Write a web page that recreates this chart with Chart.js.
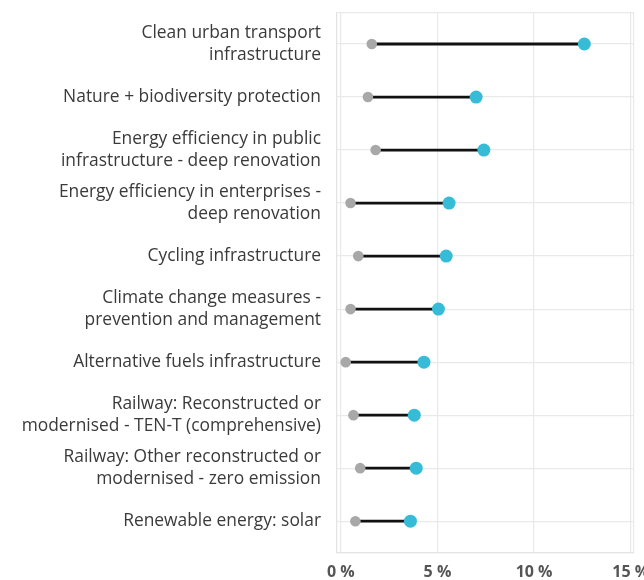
<!DOCTYPE html>
<html>
<head>
<meta charset="utf-8">
<script src="https://cdn.jsdelivr.net/npm/chart.js@4"></script>
<style>
  body { margin: 0; background: #fff; }
  #wrap { width: 644px; height: 580px; }
</style>
</head>
<body>
<div id="wrap"><canvas id="dumbbellChart"></canvas></div>
<script>
// categories top to bottom
const categories = [
    ["Clean urban transport", "infrastructure"],
    "Nature + biodiversity protection",
    ["Energy efficiency in public", "infrastructure - deep renovation"],
    ["Energy efficiency in enterprises -", "deep renovation"],
    "Cycling infrastructure",
    ["Climate change measures -", "prevention and management"],
    "Alternative fuels infrastructure",
    ["Railway: Reconstructed or", "modernised - TEN-T (comprehensive)"],
    ["Railway: Other reconstructed or", "modernised - zero emission"],
    "Renewable energy: solar"
];
const startValues = [1.6, 1.4, 1.8, 0.5, 0.9, 0.5, 0.25, 0.65, 1.0, 0.75];
const endValues = [12.6, 7.0, 7.4, 5.6, 5.45, 5.05, 4.3, 3.8, 3.9, 3.6];
const xTicks = [0, 5, 10, 15];

const xMin = -0.2, xMax = 15.17;
const yMin = -0.585, yMax = 9.6;

// one line segment per row, broken with null points
const segments = [];
for (let i = 0; i < categories.length; i++) {
    segments.push({ x: startValues[i], y: i });
    segments.push({ x: endValues[i], y: i });
    segments.push({ x: null, y: null });
}

const ctx = document.getElementById('dumbbellChart').getContext('2d');
const dumbbellChart = new Chart(ctx, {
    type: 'scatter',
    data: {
        datasets: [{
            label: 'End',
            data: endValues.map((v, i) => ({ x: v, y: i })),
            backgroundColor: '#36bcd6',
            borderWidth: 0,
            pointRadius: 6.5,
            pointHoverRadius: 6.5,
            order: 0
        }, {
            label: 'Start',
            data: startValues.map((v, i) => ({ x: v, y: i })),
            backgroundColor: '#a8a8a8',
            borderWidth: 0,
            pointRadius: 5.3,
            pointHoverRadius: 5.3,
            order: 1
        }, {
            type: 'line',
            label: 'Range',
            data: segments,
            borderColor: '#111111',
            borderWidth: 2.8,
            pointRadius: 0,
            spanGaps: false,
            order: 2
        }]
    },
    options: {
        responsive: true,
        maintainAspectRatio: false,
        animation: false,
        layout: { padding: { top: 13, right: 10, left: 0, bottom: 0 } },
        plugins: {
            legend: { display: false },
            tooltip: { enabled: false }
        },
        scales: {
            x: {
                type: 'linear',
                min: xMin,
                max: xMax,
                afterBuildTicks: (scale) => {
                    scale.ticks = [xMin].concat(xTicks, [xMax]).map(v => ({ value: v }));
                },
                afterFit: (scale) => {
                    scale.height = 27;
                    scale.paddingLeft = 0;
                    scale.paddingRight = 0;
                },
                grid: { color: '#e9e9e9', lineWidth: 1.2, drawTicks: false },
                border: { color: '#e4e4e4', width: 1.2 },
                ticks: {
                    padding: 10,
                    color: '#555555',
                    font: { family: 'Open Sans', size: 16, weight: 'bold' },
                    callback: (v) => xTicks.includes(v) ? v + ' %' : ''
                }
            },
            y: {
                type: 'linear',
                reverse: true,
                min: yMin,
                max: yMax,
                afterBuildTicks: (scale) => {
                    const t = [yMin];
                    for (let i = 0; i < categories.length; i++) t.push(i);
                    t.push(yMax);
                    scale.ticks = t.map(v => ({ value: v }));
                },
                afterFit: (scale) => {
                    scale.width = 337;
                    scale.paddingTop = 0;
                    scale.paddingBottom = 0;
                },
                grid: { color: '#e9e9e9', lineWidth: 1.2, drawTicks: false },
                border: { color: '#e4e4e4', width: 1.2 },
                ticks: {
                    padding: 16,
                    color: '#3a3a3a',
                    font: { family: 'Open Sans', size: 17.4, lineHeight: 1.27 },
                    callback: (v) => Number.isInteger(v) ? categories[v] : ''
                }
            }
        }
    }
});
</script>
</body>
</html>
